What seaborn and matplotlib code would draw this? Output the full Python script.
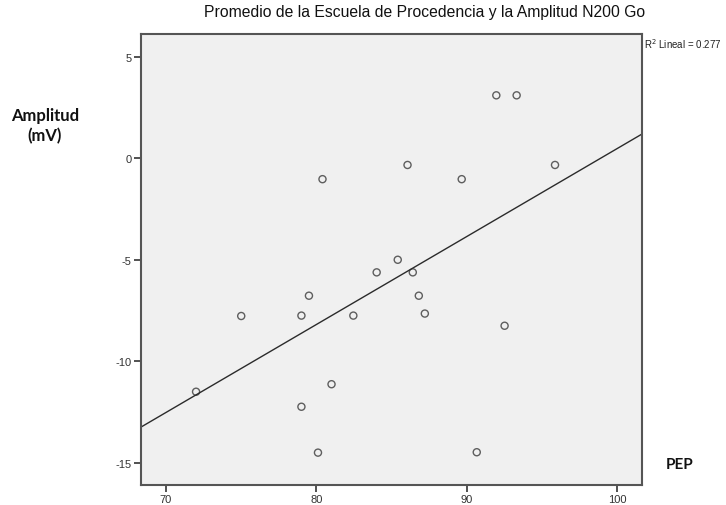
import numpy as np
import pandas as pd
import matplotlib
matplotlib.use("Agg")
import matplotlib.pyplot as plt
import seaborn as sns

# PEP (promedio de la escuela de procedencia) and N200 Go amplitude (mV)
pep = [72.0, 75.0, 79.0, 79.5, 79.0, 80.1, 81.0, 80.4, 82.45, 84.0,
       85.4, 86.4, 86.8, 87.2, 86.05, 89.65, 90.65, 91.95, 93.3, 92.5, 95.85]
amplitud = [-11.5, -7.77, -7.75, -6.77, -12.24, -14.5, -11.13, -1.03, -7.75, -5.62,
            -5.0, -5.62, -6.77, -7.65, -0.33, -1.03, -14.48, 3.1, 3.1, -8.25, -0.33]

x_ticks = [70, 80, 90, 100]
y_ticks = [-15, -10, -5, 0, 5]

df = pd.DataFrame({"PEP": pep, "Amplitud": amplitud})

slope, intercept = np.polyfit(df["PEP"], df["Amplitud"], 1)
pred = slope * df["PEP"] + intercept
r2 = 1 - ((df["Amplitud"] - pred) ** 2).sum() / ((df["Amplitud"] - df["Amplitud"].mean()) ** 2).sum()

sns.set_theme(style="white")
plt.rcParams["font.family"] = ["Liberation Sans", "DejaVu Sans"]
plt.rcParams["axes.unicode_minus"] = False

fig = plt.figure(figsize=(7.26, 5.06), dpi=100)
ax = fig.add_axes([0.1942, 0.0401, 0.6901, 0.8907])
ax.set_facecolor("#f0f0f0")
ax.set_xlim(68.34, 101.63)
ax.set_ylim(-16.08, 6.12)

sns.regplot(data=df, x="PEP", y="Amplitud", ax=ax, ci=None, truncate=False,
            scatter_kws=dict(s=26, facecolors="none", edgecolors="#3a3a3a", linewidths=1.0),
            line_kws=dict(color="#2b2b2b", linewidth=1.0))

ax.set_xticks(x_ticks)
ax.set_yticks(y_ticks)
ax.tick_params(axis="both", which="both", direction="out", length=5, width=1.2,
               color="#333333", labelsize=8, labelcolor="#333333", pad=2)
ax.xaxis.set_ticks_position("bottom")
ax.yaxis.set_ticks_position("left")
ax.set_xlabel("")
ax.set_ylabel("")
for sp in ax.spines.values():
    sp.set_visible(True)
    sp.set_color("#555555")
    sp.set_linewidth(1.5)

fig.text(425 / 726, 1 - 12 / 506, "Promedio de la Escuela de Procedencia y la Amplitud N200 Go",
         ha="center", va="center", fontsize=11.3, color="#111111")
fig.text(644 / 726, 1 - 44 / 506, f"R$^2$ Lineal = {r2:.3f}",
         ha="left", va="center", fontsize=7, color="#222222")
fig.text(45 / 726, 1 - 126 / 506, "Amplitud\n(mV)", ha="center", va="center",
         fontsize=12, fontweight="bold", family=["Lato", "DejaVu Sans"],
         color="#111111", linespacing=1.3)
fig.text(680 / 726, 1 - 465 / 506, "PEP", ha="center", va="center",
         fontsize=11, fontweight="bold", family=["Lato", "DejaVu Sans"], color="#111111")

fig.savefig("out.png", dpi=100)
